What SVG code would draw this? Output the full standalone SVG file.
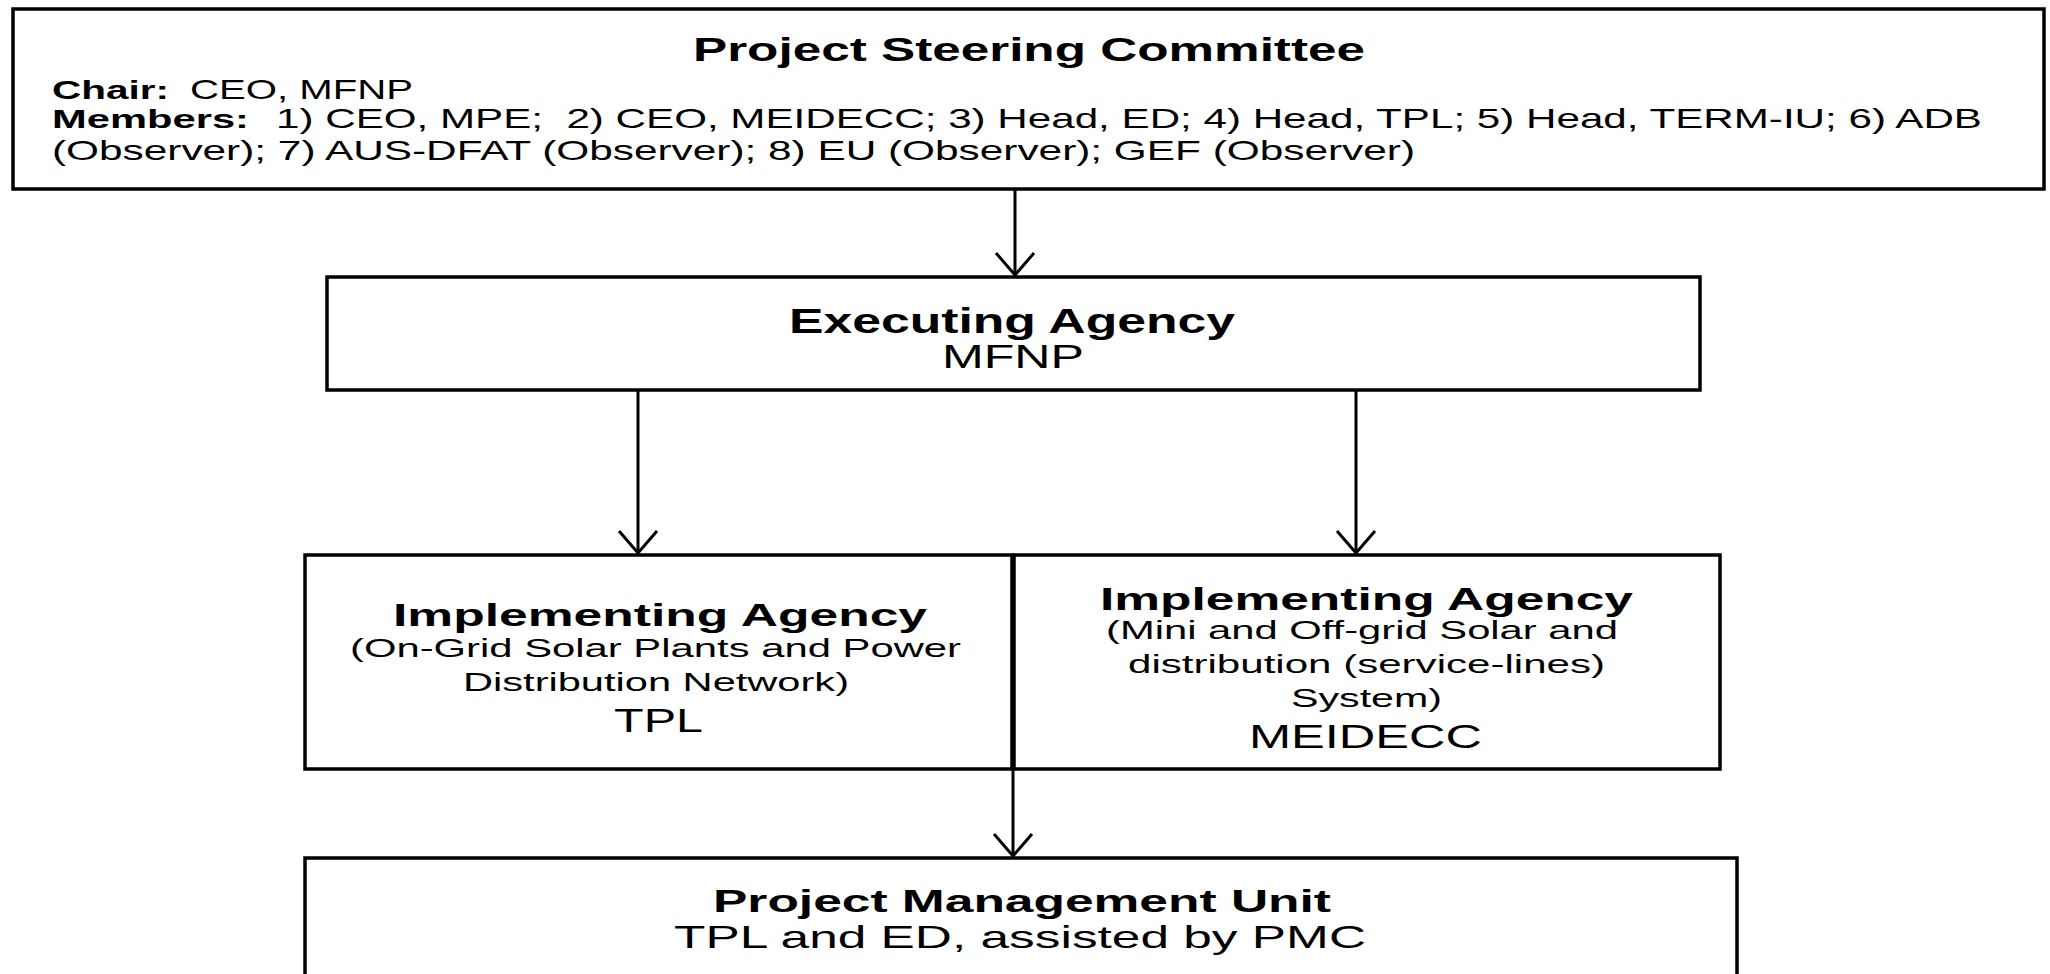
<svg xmlns="http://www.w3.org/2000/svg" width="2050" height="974" viewBox="0 0 2050 974">
<defs>
<style>
.box{fill:#fff;stroke:#000;stroke-width:3.5}
.t{font-family:"Liberation Sans",Arial,sans-serif;fill:#000}
.b{font-weight:bold}
.conn{stroke:#000;stroke-width:3;fill:none}
</style>
<marker id="arr" viewBox="-26 -22 30 44" refX="0" refY="0" markerWidth="30" markerHeight="44" markerUnits="userSpaceOnUse" orient="auto" overflow="visible">
<path d="M-22,-19 L0,0 L-22,19" fill="none" stroke="#000" stroke-width="3"/>
</marker>
</defs>
<rect width="2050" height="974" fill="#fff"/>
<g id="connectors">
<path class="conn" d="M1015,189 V275" marker-end="url(#arr)"/>
<path class="conn" d="M638,390 V553" marker-end="url(#arr)"/>
<path class="conn" d="M1356,390 V553" marker-end="url(#arr)"/>
<path class="conn" d="M1013,769 V856" marker-end="url(#arr)"/>
</g>
<g id="steering">
<rect class="box" x="13" y="9" width="2031" height="180"/>
<text class="t b" x="693" y="61" font-size="34" textLength="672" lengthAdjust="spacingAndGlyphs">Project Steering Committee</text>
<text class="t b" x="52" y="99" font-size="26" textLength="117" lengthAdjust="spacingAndGlyphs">Chair:</text>
<text class="t" x="190" y="99" font-size="28" textLength="223" lengthAdjust="spacingAndGlyphs">CEO, MFNP</text>
<text class="t b" x="52" y="128" font-size="26" textLength="197" lengthAdjust="spacingAndGlyphs">Members:</text>
<text class="t" x="276" y="128" font-size="28" textLength="1706" lengthAdjust="spacingAndGlyphs" xml:space="preserve">1) CEO, MPE;  2) CEO, MEIDECC; 3) Head, ED; 4) Head, TPL; 5) Head, TERM-IU; 6) ADB</text>
<text class="t" x="52" y="160" font-size="28" textLength="1363" lengthAdjust="spacingAndGlyphs">(Observer); 7) AUS-DFAT (Observer); 8) EU (Observer); GEF (Observer)</text>
</g>
<g id="executing">
<rect class="box" x="327" y="277" width="1373" height="113"/>
<text class="t b" x="789" y="333" font-size="35" textLength="446" lengthAdjust="spacingAndGlyphs">Executing Agency</text>
<text class="t" x="942" y="368" font-size="33" textLength="142" lengthAdjust="spacingAndGlyphs">MFNP</text>
</g>
<g id="impl-tpl">
<rect class="box" x="305" y="555" width="707" height="214"/>
<text class="t b" x="393" y="626" font-size="32" textLength="534" lengthAdjust="spacingAndGlyphs">Implementing Agency</text>
<text class="t" x="350" y="657" font-size="25" textLength="611" lengthAdjust="spacingAndGlyphs">(On-Grid Solar Plants and Power</text>
<text class="t" x="463" y="691" font-size="25" textLength="386" lengthAdjust="spacingAndGlyphs">Distribution Network)</text>
<text class="t" x="614" y="732" font-size="34" textLength="89" lengthAdjust="spacingAndGlyphs">TPL</text>
</g>
<g id="impl-meidecc">
<rect class="box" x="1014" y="555" width="706" height="214"/>
<text class="t b" x="1100" y="610" font-size="32" textLength="533" lengthAdjust="spacingAndGlyphs">Implementing Agency</text>
<text class="t" x="1106" y="639" font-size="25" textLength="512" lengthAdjust="spacingAndGlyphs">(Mini and Off-grid Solar and</text>
<text class="t" x="1128" y="673" font-size="25" textLength="477" lengthAdjust="spacingAndGlyphs">distribution (service-lines)</text>
<text class="t" x="1291" y="707" font-size="25" textLength="151" lengthAdjust="spacingAndGlyphs">System)</text>
<text class="t" x="1249" y="748" font-size="33" textLength="233" lengthAdjust="spacingAndGlyphs">MEIDECC</text>
</g>
<g id="pmu">
<rect class="box" x="305" y="858" width="1432" height="130"/>
<text class="t b" x="713" y="912" font-size="31" textLength="618" lengthAdjust="spacingAndGlyphs">Project Management Unit</text>
<text class="t" x="674" y="948" font-size="32" textLength="692" lengthAdjust="spacingAndGlyphs">TPL and ED, assisted by PMC</text>
</g>
</svg>
